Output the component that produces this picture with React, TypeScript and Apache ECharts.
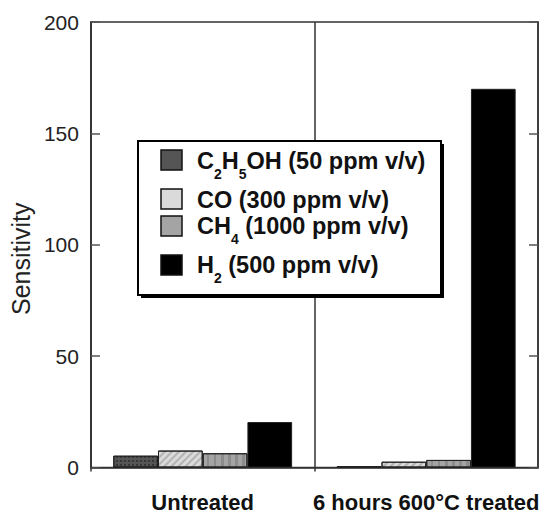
import React, { useEffect, useRef } from "react";
import * as echarts from "echarts";

const categories = ["Untreated", "6 hours 600°C treated"];
const seriesNames = ["C2H5OH (50 ppm v/v)", "CO (300 ppm v/v)", "CH4 (1000 ppm v/v)", "H2 (500 ppm v/v)"];
const legendRich = [
  "{n|C}{s|2}{n|H}{s|5}{n|OH (50 ppm v/v)}",
  "{n|CO (300 ppm v/v)}",
  "{n|CH}{s|4}{n| (1000 ppm v/v)}",
  "{n|H}{s|2}{n| (500 ppm v/v)}",
];
const ethanolValues = [5.3, 0.6];
const coValues = [7.6, 2.6];
const methaneValues = [6.4, 3.4];
const hydrogenValues = [20.4, 170];
const seriesValues = [ethanolValues, coValues, methaneValues, hydrogenValues];
const yMin = 0;
const yMax = 200;
const yInterval = 50;

const barColors = ["#555555", "#dadada", "#a4a4a4", "#000000"];
const decals: any[] = [
  { symbol: "rect", symbolSize: 1, color: "rgba(0,0,0,0.35)", dashArrayX: [[2, 2]], dashArrayY: [2, 2] },
  { symbol: "rect", symbolSize: 1, color: "rgba(0,0,0,0.18)", dashArrayX: [1, 0], dashArrayY: [2, 3], rotation: -Math.PI / 4 },
  { symbol: "rect", symbolSize: 1, color: "rgba(0,0,0,0.15)", dashArrayX: [1, 0], dashArrayY: [3, 4], rotation: Math.PI / 2 },
  null,
];

const FONT = "'Liberation Sans', Arial, Helvetica, sans-serif";

export default function App() {
  const ref = useRef<HTMLDivElement>(null);
  useEffect(() => {
    document.body.style.margin = "0";
    if (!ref.current) return;
    const chart = echarts.init(ref.current, undefined, { renderer: "svg" });
    const rowCenters = [161, 200, 226, 265];
    const markerCenters = [160, 199, 226, 265];
    const legendGraphics: any[] = [
      { type: "rect", shape: { x: 141, y: 144, width: 303, height: 154 }, style: { fill: "#000" }, z: 100 },
      { type: "rect", shape: { x: 138, y: 141, width: 303, height: 154 }, style: { fill: "#fff", stroke: "#000", lineWidth: 2 }, z: 101 },
    ];
    seriesNames.forEach((name, i) => {
      legendGraphics.push({
        type: "rect",
        shape: { x: 161, y: markerCenters[i] - 10, width: 21, height: 20 },
        style: { fill: barColors[i], stroke: "#111", lineWidth: 1.5 },
        z: 102,
      });
      legendGraphics.push({
        type: "text",
        x: 197,
        y: rowCenters[i] - 12,
        z: 102,
        style: {
          text: legendRich[i],
          verticalAlign: "top",
          align: "left",
          fill: "#111",
          font: `bold 23.5px ${FONT}`,
          rich: {
            n: { fontSize: 23.5, fontWeight: "bold", fontFamily: FONT, fill: "#111", lineHeight: 40, verticalAlign: "top" },
            s: { fontSize: 14, fontWeight: "bold", fontFamily: FONT, fill: "#111", lineHeight: 40, verticalAlign: "top", padding: [18, 0, 0, 0] },
          },
        },
      });
    });

    chart.setOption({
      animation: false,
      backgroundColor: "#fff",
      legend: { show: false },
      grid: { left: 89, right: 6, top: 22, bottom: 47.5, show: true, borderColor: "#333", borderWidth: 1.5, containLabel: false },
      xAxis: {
        type: "category",
        data: categories,
        axisLine: { show: true, lineStyle: { color: "#333", width: 1.5 } },
        axisTick: { show: true, length: 4, lineStyle: { color: "#333", width: 1.5 } },
        splitLine: { show: true, lineStyle: { color: "#333", width: 1.5 } },
        axisLabel: {
          interval: 0,
          margin: 24,
          color: "#111",
          fontFamily: FONT,
          fontWeight: "bold",
          fontSize: 22,
          hideOverlap: false,
        },
      },
      yAxis: [
        {
          type: "value",
          min: yMin,
          max: yMax,
          interval: yInterval,
          position: "left",
          name: "Sensitivity",
          nameLocation: "middle",
          nameRotate: 90,
          nameGap: 52,
          nameTextStyle: { fontFamily: FONT, fontSize: 25, color: "#222", padding: [0, 28, 0, 0] },
          axisLine: { show: true, lineStyle: { color: "#333", width: 1.5 } },
          axisTick: { show: true, inside: true, length: 9, lineStyle: { color: "#555", width: 1.5 } },
          splitLine: { show: false },
          axisLabel: { margin: 12, color: "#222", fontFamily: FONT, fontSize: 21 },
        },
        {
          type: "value",
          min: yMin,
          max: yMax,
          interval: yInterval,
          position: "right",
          axisLine: { show: true, lineStyle: { color: "#333", width: 1.5 } },
          axisTick: { show: true, inside: true, length: 9, lineStyle: { color: "#555", width: 1.5 } },
          splitLine: { show: false },
          axisLabel: { show: false },
        },
      ],
      series: seriesNames.map((name, i) => ({
        name,
        type: "bar",
        yAxisIndex: 0,
        data: seriesValues[i],
        barGap: "0%",
        barCategoryGap: "20%",
        itemStyle: {
          color: barColors[i],
          borderColor: "#222",
          borderWidth: 1,
          ...(decals[i] ? { decal: decals[i] } : {}),
        },
      })),
      graphic: legendGraphics,
    });
    return () => chart.dispose();
  }, []);
  return <div ref={ref} style={{ width: 544, height: 515 }} />;
}
